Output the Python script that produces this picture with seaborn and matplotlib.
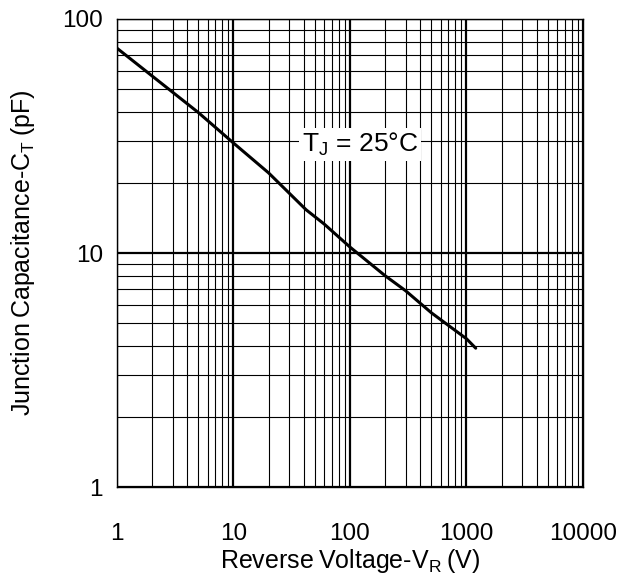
import matplotlib
matplotlib.use('Agg')
import matplotlib.pyplot as plt
import matplotlib.ticker as mticker
import pandas as pd
import seaborn as sns

# Junction capacitance vs reverse voltage
voltage = [1, 5, 10, 20, 42, 60, 100, 200, 300, 500, 1000, 1200]
capacitance = [75, 39.8, 29.5, 22, 15.3, 13.3, 10.6, 8.0, 6.9, 5.55, 4.3, 3.92]

x_ticks = [1, 10, 100, 1000, 10000]
y_ticks = [1, 10, 100]

df = pd.DataFrame({'V': voltage, 'C': capacitance})

sns.set_style('white')
plt.rcParams['font.family'] = ['Liberation Sans', 'DejaVu Sans']
plt.rcParams['mathtext.fontset'] = 'custom'
plt.rcParams['mathtext.rm'] = 'Liberation Sans'
plt.rcParams['mathtext.it'] = 'Liberation Sans'
plt.rcParams['text.color'] = 'black'
plt.rcParams['axes.labelcolor'] = 'black'

fig, ax = plt.subplots(figsize=(6.21, 5.75), dpi=100)
fig.subplots_adjust(left=0.1884, right=0.9388, top=0.967, bottom=0.153)

ax.set_xscale('log')
ax.set_yscale('log')
ax.set_xlim(1, 10000)
ax.set_ylim(1, 100)

# grid on every minor step, decades a little heavier
ax.xaxis.set_minor_locator(mticker.LogLocator(base=10, subs=range(2, 10), numticks=20))
ax.yaxis.set_minor_locator(mticker.LogLocator(base=10, subs=range(2, 10), numticks=20))
ax.grid(which='minor', color='black', linewidth=0.8)
ax.grid(which='major', color='black', linewidth=1.6)
ax.set_axisbelow(True)

sns.lineplot(data=df, x='V', y='C', color='black', linewidth=2.2, ax=ax)

ax.set_xticks(x_ticks)
ax.set_xticklabels([str(t) for t in x_ticks])
ax.set_yticks(y_ticks)
ax.set_yticklabels([str(t) for t in y_ticks])
ax.tick_params(which='both', length=0, labelsize=17.5, colors='black')
ax.tick_params(axis='x', pad=26)
ax.tick_params(axis='y', pad=10)
ax.xaxis.set_minor_formatter(mticker.NullFormatter())
ax.yaxis.set_minor_formatter(mticker.NullFormatter())

for s in ax.spines.values():
    s.set_color('black')
    s.set_linewidth(1.0)

ax.set_xlabel('Reverse\u2009Voltage-V$_\\mathregular{R}$\u2009(V)', fontsize=18, labelpad=1)
ax.set_ylabel('Junction\u2009Capacitance-C$_\\mathregular{T}$\u2009(pF)', fontsize=18, labelpad=18)

ax.text(38.6, 27, 'T$_\\mathregular{J}$ = 25\u00b0C', fontsize=19, va='baseline', ha='left',
        bbox=dict(facecolor='white', edgecolor='none', pad=2))

fig.savefig('out.png', dpi=100)
